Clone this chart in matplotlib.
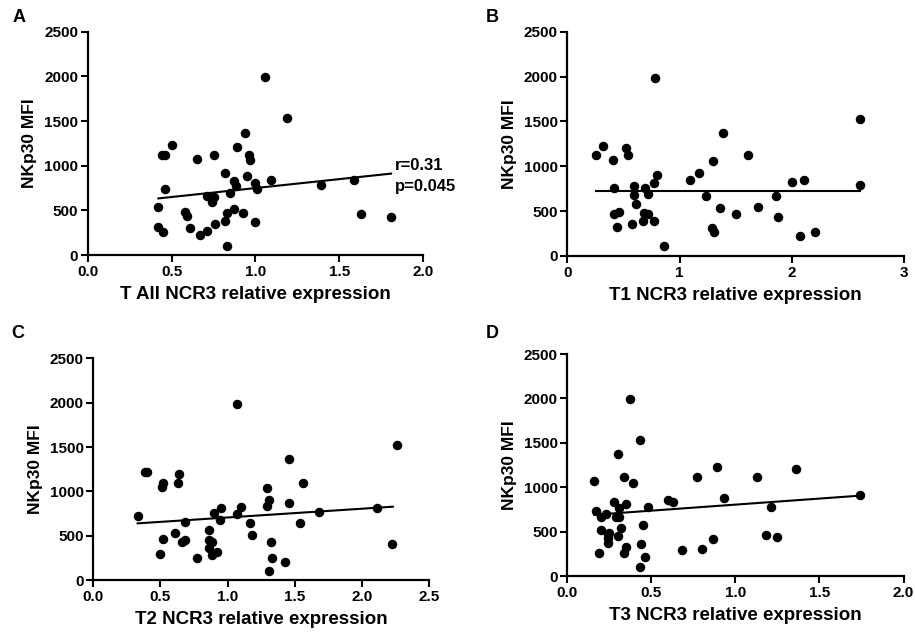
import matplotlib
matplotlib.use('Agg')
import matplotlib.pyplot as plt
import numpy as np

plt.rcParams['font.family'] = ['Liberation Sans', 'DejaVu Sans']
plt.rcParams['font.weight'] = 'bold'

# Panel A: T All
a_x = [1.055, 1.19, 0.94, 0.50, 0.44, 0.46, 0.65, 0.75, 0.89, 0.96, 0.97, 0.82, 0.95, 1.09,
       0.87, 0.885, 1.0, 1.01, 0.46, 0.71, 0.75, 0.74, 0.85, 1.39, 1.59, 0.42, 0.58, 0.59,
       0.87, 0.83, 0.82, 0.925, 1.0, 0.76, 0.42, 0.45, 0.61, 0.67, 0.71, 0.83, 1.63, 1.81]
a_y = [1990, 1535, 1370, 1230, 1120, 1120, 1070, 1120, 1205, 1120, 1060, 915, 890, 840,
       830, 775, 810, 745, 745, 665, 655, 590, 690, 785, 840, 540, 480, 435,
       520, 475, 385, 475, 375, 345, 315, 255, 300, 225, 270, 100, 455, 425]
a_line = ([0.42, 1.81], [634, 912])

# Panel B: T1
b_x = [0.26, 0.32, 0.41, 0.52, 0.54, 0.78, 0.42, 0.59, 0.61, 0.59, 0.69, 0.72, 0.77, 0.80,
       0.42, 0.46, 0.44, 0.58, 0.68, 0.72, 0.67, 0.77, 0.86, 1.09, 1.17, 1.30, 1.39, 1.24,
       1.36, 1.29, 1.31, 1.50, 1.61, 1.70, 1.86, 1.88, 2.0, 2.11, 2.07, 2.21, 2.61, 2.61]
b_y = [1125, 1230, 1075, 1205, 1125, 1990, 755, 780, 585, 680, 755, 690, 815, 905,
       465, 485, 320, 355, 475, 470, 395, 385, 110, 845, 920, 1060, 1375, 670,
       530, 310, 265, 465, 1125, 550, 670, 440, 825, 845, 225, 270, 1530, 795]
b_line = ([0.26, 2.61], [728, 728])

# Panel C: T2
c_x = [0.33, 0.385, 0.40, 0.52, 0.51, 0.64, 0.63, 1.07, 0.52, 0.50, 0.61, 0.66, 0.68, 0.68,
       0.77, 0.86, 0.86, 0.88, 0.86, 0.88, 0.92, 0.90, 0.95, 0.94, 1.07, 1.10, 1.17, 1.18,
       1.29, 1.29, 1.31, 1.32, 1.33, 1.31, 1.43, 1.46, 1.46, 1.54, 1.56, 1.68, 2.11, 2.22, 2.26]
c_y = [720, 1218, 1218, 1098, 1053, 1192, 1098, 1985, 462, 293, 526, 425, 451, 658,
       244, 564, 451, 432, 357, 282, 320, 759, 808, 677, 744, 827, 639, 508,
       1041, 838, 902, 432, 244, 101, 207, 1361, 865, 639, 1098, 771, 808, 406, 1519]
c_line = ([0.33, 2.23], [639, 827])

# Panel D: T3
d_x = [0.16, 0.37, 0.30, 0.43, 0.34, 0.39, 0.17, 0.23, 0.20, 0.28, 0.35, 0.31, 0.29, 0.31,
       0.20, 0.32, 0.24, 0.25, 0.24, 0.245, 0.30, 0.19, 0.335, 0.35, 0.45, 0.44, 0.46, 0.43,
       0.48, 0.60, 0.63, 0.68, 0.77, 0.80, 0.865, 0.89, 0.93, 1.13, 1.18, 1.21, 1.25, 1.36, 1.74]
d_y = [1070, 1989, 1370, 1531, 1119, 1051, 736, 698, 668, 837, 807, 762, 661, 661,
       518, 537, 473, 488, 424, 375, 450, 255, 255, 330, 574, 360, 210, 105,
       781, 856, 830, 293, 1119, 300, 417, 1224, 882, 1111, 462, 781, 443, 1201, 912]
d_line = ([0.16, 1.74], [690, 905])

panels = [
    ('A', a_x, a_y, a_line, 'T All NCR3 relative expression', [0.0, 0.5, 1.0, 1.5, 2.0], '%.1f',
     [0.0962, 0.599, 0.366, 0.351], (19, 18)),
    ('B', b_x, b_y, b_line, 'T1 NCR3 relative expression', [0, 1, 2, 3], '%d',
     [0.620, 0.5975, 0.368, 0.3525], (492, 18)),
    ('C', c_x, c_y, c_line, 'T2 NCR3 relative expression', [0.0, 0.5, 1.0, 1.5, 2.0, 2.5], '%.1f',
     [0.102, 0.088, 0.367, 0.3486], (18, 334)),
    ('D', d_x, d_y, d_line, 'T3 NCR3 relative expression', [0.0, 0.5, 1.0, 1.5, 2.0], '%.1f',
     [0.620, 0.0943, 0.3675, 0.349], (492, 333)),
]
y_ticks = [0, 500, 1000, 1500, 2000, 2500]

W, H = 915, 636
fig = plt.figure(figsize=(W / 100, H / 100), dpi=100)

for letter, xs, ys, line, xlabel, xticks, fmt, rect, pos in panels:
    ax = fig.add_axes(rect)
    ax.scatter(xs, ys, s=34, color='black', zorder=3, clip_on=False)
    ax.plot(line[0], line[1], color='black', lw=1.5, zorder=2)
    ax.set_xlim(xticks[0], xticks[-1])
    ax.set_ylim(0, 2500)
    ax.set_xticks(xticks)
    ax.set_xticklabels([fmt % t for t in xticks])
    ax.set_yticks(y_ticks)
    for side in ['top', 'right']:
        ax.spines[side].set_visible(False)
    for side in ['left', 'bottom']:
        ax.spines[side].set_linewidth(1.6)
    ax.tick_params(direction='out', length=5, width=1.5, labelsize=11, pad=2)
    ax.set_xlabel(xlabel, fontsize=13.5, fontweight='bold', labelpad=5)
    ax.set_ylabel('NKp30 MFI', fontsize=12.5, fontweight='bold', labelpad=5)
    fig.text(pos[0] / W, 1 - pos[1] / H, letter, fontsize=13, fontweight='bold',
             ha='center', va='center')
    if letter == 'A':
        ax.text(1.83, 1008, 'r=0.31', fontsize=12, fontweight='bold', ha='left', va='center')
        ax.text(1.83, 773, 'p=0.045', fontsize=12, fontweight='bold', ha='left', va='center')

fig.savefig('out.png', dpi=100)
